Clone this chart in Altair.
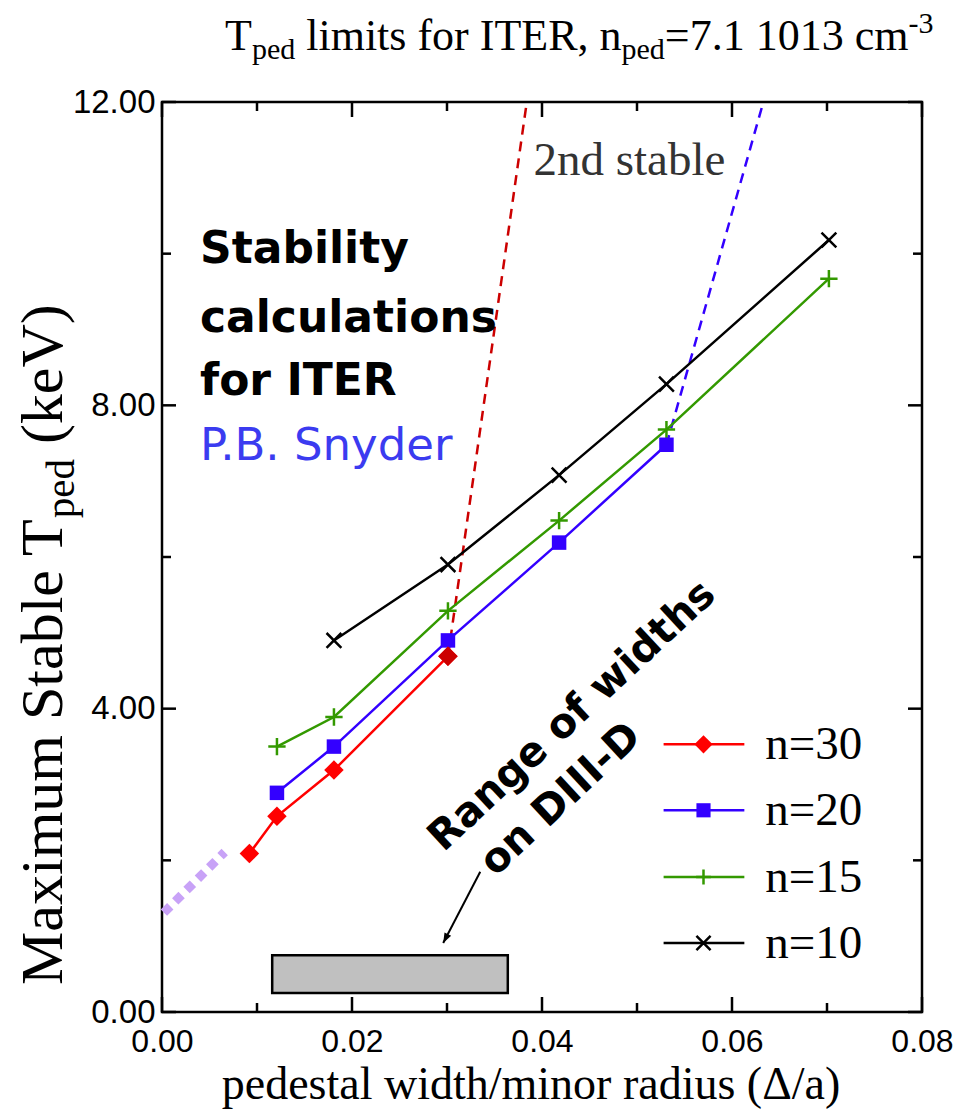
import altair as alt
import pandas as pd

# ---------------- data ----------------
x_n30 = [0.0092, 0.0121, 0.0181, 0.0301]
y_n30 = [2.09, 2.58, 3.19, 4.69]
x_n20 = [0.0121, 0.0181, 0.0301, 0.0418, 0.0531]
y_n20 = [2.89, 3.50, 4.90, 6.19, 7.48]
x_n15 = [0.0121, 0.0181, 0.0301, 0.0418, 0.0531, 0.0702]
y_n15 = [3.50, 3.89, 5.29, 6.48, 7.68, 9.67]
x_n10 = [0.0181, 0.0301, 0.0418, 0.0531, 0.0702]
y_n10 = [4.90, 5.90, 7.08, 8.28, 10.18]

red_dash_x = [0.0301, 0.0384]
red_dash_y = [4.69, 12.0]
blue_dash_x = [0.0531, 0.0633]
blue_dash_y = [7.48, 12.0]
purple_x = [0.0002, 0.0066]
purple_y = [1.31, 2.11]

diiid_x = [0.0116, 0.0364]
diiid_y = [0.25, 0.75]
arrow_x = [0.0335, 0.0296]
arrow_y = [1.85, 0.91]

x_ticks_major = [0.0, 0.02, 0.04, 0.06, 0.08]
x_ticks_minor = [0.01, 0.03, 0.05, 0.07]
y_ticks_major = [0.0, 4.0, 8.0, 12.0]
y_ticks_minor = [2.0, 6.0, 10.0]

legend_labels = ["n=30", "n=20", "n=15", "n=10"]
legend_y = [3.53, 2.66, 1.78, 0.91]

# ---------------- layout ----------------
W, H = 760, 910
PAD = {"left": 162, "top": 102, "right": 35, "bottom": 97}
SERIF = "Liberation Serif"
SANS = "Liberation Sans"
GEO = "DejaVu Sans"

RED, BLUE, GREEN, BLACK = "#ff0000", "#3300ff", "#339900", "#000000"
DRED = "#cc0000"

xs = alt.Scale(domain=[0, 0.08], nice=False, zero=False)
ys = alt.Scale(domain=[0, 12], nice=False, zero=False)

XAXIS = alt.Axis(values=x_ticks_major, format=".2f", domain=False, ticks=False,
                 grid=False, title=None, labelFont=SANS, labelFontSize=32,
                 labelColor="black", labelPadding=14, labelFlush=False,
                 labelOverlap=False)
YAXIS = alt.Axis(values=y_ticks_major, format=".2f", domain=False, ticks=False,
                 grid=False, title=None, labelFont=SANS, labelFontSize=33,
                 labelColor="black", labelPadding=7, labelFlush=False,
                 labelOverlap=False)


def X(f="x"):
    return alt.X(f"{f}:Q", scale=xs, axis=XAXIS)


def Y(f="y"):
    return alt.Y(f"{f}:Q", scale=ys, axis=YAXIS)


PLUS = "M-1,0L1,0M0,-1L0,1"
CROSS = "M-1,-1L1,1M-1,1L1,-1"
ARROWHEAD = "M0,0L0.75,2L-0.75,2Z"

layers = []

# inward ticks
def xtick_layer(vals, length):
    df = pd.DataFrame({"v": vals})
    b = alt.Chart(df).mark_rule(strokeWidth=2.5, color="black").encode(
        x=X("v"), y=alt.value(H), y2=alt.value(H - length))
    t = alt.Chart(df).mark_rule(strokeWidth=2.5, color="black").encode(
        x=X("v"), y=alt.value(0), y2=alt.value(length))
    return [b, t]


def ytick_layer(vals, length):
    df = pd.DataFrame({"v": vals})
    l = alt.Chart(df).mark_rule(strokeWidth=2.5, color="black").encode(
        y=Y("v"), x=alt.value(0), x2=alt.value(length))
    r = alt.Chart(df).mark_rule(strokeWidth=2.5, color="black").encode(
        y=Y("v"), x=alt.value(W), x2=alt.value(W - length))
    return [l, r]


layers += xtick_layer(x_ticks_major, 15) + xtick_layer(x_ticks_minor, 9)
layers += ytick_layer(y_ticks_major, 14) + ytick_layer(y_ticks_minor, 9)

# DIII-D range box
box_df = pd.DataFrame({"x": [diiid_x[0]], "x2": [diiid_x[1]], "y": [diiid_y[0]], "y2": [diiid_y[1]]})
layers.append(alt.Chart(box_df).mark_rect(fill="#c0c0c0", stroke="black", strokeWidth=2.5).encode(
    x=X("x"), x2="x2:Q", y=Y("y"), y2="y2:Q"))

# arrow
arr_df = pd.DataFrame({"x": [arrow_x[0]], "x2": [arrow_x[1]], "y": [arrow_y[0]], "y2": [arrow_y[1]]})
layers.append(alt.Chart(arr_df).mark_rule(strokeWidth=2, color="black").encode(
    x=X("x"), x2="x2:Q", y=Y("y"), y2="y2:Q"))
head_df = pd.DataFrame({"x": [arrow_x[1]], "y": [arrow_y[1]]})
layers.append(alt.Chart(head_df).mark_point(shape=ARROWHEAD, filled=True, color="black",
                                            size=100, angle=207.5, opacity=1).encode(
    x=X("x"), y=Y("y")))

# purple dotted extrapolation
pur_df = pd.DataFrame({"x": purple_x, "y": purple_y})
layers.append(alt.Chart(pur_df).mark_line(color="#c8a2f7", strokeWidth=9, strokeDash=[9, 7]).encode(
    x=X("x"), y=Y("y")))

# dashed 2nd-stability boundaries
rd = pd.DataFrame({"x": red_dash_x, "y": red_dash_y})
layers.append(alt.Chart(rd).mark_line(color=DRED, strokeWidth=2.5, strokeDash=[10, 7], clip=True).encode(
    x=X("x"), y=Y("y")))
bd = pd.DataFrame({"x": blue_dash_x, "y": blue_dash_y})
layers.append(alt.Chart(bd).mark_line(color=BLUE, strokeWidth=2.5, strokeDash=[10, 7], clip=True).encode(
    x=X("x"), y=Y("y")))

# series
series = [
    (x_n10, y_n10, BLACK, CROSS, False, 220),
    (x_n15, y_n15, GREEN, PLUS, False, 300),
    (x_n20, y_n20, BLUE, "square", True, 210),
    (x_n30, y_n30, RED, "diamond", True, 380),
]
for xv, yv, col, shp, filled, sz in series:
    df = pd.DataFrame({"x": xv, "y": yv})
    layers.append(alt.Chart(df).mark_line(color=col, strokeWidth=2.5).encode(x=X("x"), y=Y("y")))
    layers.append(alt.Chart(df).mark_point(shape=shp, filled=filled, color=col, size=sz,
                                           strokeWidth=2.5, opacity=1).encode(x=X("x"), y=Y("y")))
# darker end diamond where the red dashed boundary starts
layers.append(alt.Chart(pd.DataFrame({"x": [red_dash_x[0]], "y": [red_dash_y[0]]})).mark_point(
    shape="diamond", filled=True, color=DRED, size=380, opacity=1).encode(x=X("x"), y=Y("y")))

# legend (drawn inside the plot)
leg_cols = [RED, BLUE, GREEN, BLACK]
leg_shapes = ["diamond", "square", PLUS, CROSS]
leg_filled = [True, True, False, False]
leg_sizes = [330, 200, 220, 200]
for lab, ly, col, shp, fil, sz in zip(legend_labels, legend_y, leg_cols, leg_shapes, leg_filled, leg_sizes):
    ldf = pd.DataFrame({"x": [0.0528], "x2": [0.0613], "y": [ly], "xm": [0.0570], "xt": [0.0635], "label": [lab]})
    layers.append(alt.Chart(ldf).mark_rule(color=col, strokeWidth=2.5).encode(
        x=X("x"), x2="x2:Q", y=Y("y")))
    layers.append(alt.Chart(ldf).mark_point(shape=shp, filled=fil, color=col, size=sz,
                                            strokeWidth=2.5, opacity=1).encode(x=X("xm"), y=Y("y")))
    layers.append(alt.Chart(ldf).mark_text(font=SERIF, fontSize=47, align="left", baseline="alphabetic",
                                           dy=15, color="black").encode(
        x=X("xt"), y=Y("y"), text="label:N"))

# annotation texts
ann = pd.DataFrame({
    "x": [0.0040, 0.0040, 0.0040],
    "y": [9.88, 8.97, 8.14],
    "t": ["Stability", "calculations", "for ITER"],
})
layers.append(alt.Chart(ann).mark_text(font=GEO, fontWeight="bold", fontSize=44, align="left",
                                       baseline="alphabetic", color="black").encode(
    x=X("x"), y=Y("y"), text="t:N"))
layers.append(alt.Chart(pd.DataFrame({"x": [0.0040], "y": [7.28], "t": ["P.B. Snyder"]})).mark_text(
    font=GEO, fontSize=45, align="left", baseline="alphabetic", color="#3b3bf0").encode(
    x=X("x"), y=Y("y"), text="t:N"))
layers.append(alt.Chart(pd.DataFrame({"x": [0.0391], "y": [11.04], "t": ["2nd stable"]})).mark_text(
    font=SERIF, fontSize=47, align="left", baseline="alphabetic", color="#333333").encode(
    x=X("x"), y=Y("y"), text="t:N"))
rot = pd.DataFrame({"x": [0.0432, 0.0420], "y": [3.90, 2.80], "t": ["Range of widths", "on DIII-D"]})
layers.append(alt.Chart(rot).mark_text(font=GEO, fontWeight="bold", fontSize=41, align="center",
                                       baseline="middle", angle=317, color="black").encode(
    x=X("x"), y=Y("y"), text="t:N"))

# ---------- title & axis titles with sub/superscripts ----------
TW = {" ": 250, "(": 333, ")": 333, ",": 250, "-": 333, ".": 250, "/": 278, "=": 564,
      "E": 611, "I": 333, "M": 889, "R": 667, "S": 556, "T": 611, "V": 722,
      "a": 444, "b": 500, "c": 444, "d": 500, "e": 444, "f": 333, "h": 500, "i": 278,
      "k": 500, "l": 278, "m": 778, "n": 500, "o": 500, "p": 500, "r": 333, "s": 389,
      "t": 278, "u": 500, "w": 722, "x": 500, "y": 500}


def tw(s, size):
    return sum(TW.get(c, 500) for c in s) * size / 1000.0


def rich(parts, ax, ay, angle=0):
    out = []
    off = 0.0
    for txt, size, shift in parts:
        stripped = txt.lstrip(" ")
        off += tw(txt[: len(txt) - len(stripped)], size)
        out.append(alt.Chart(pd.DataFrame({"t": [stripped]})).mark_text(
            font=SERIF, fontSize=size, align="left", baseline="alphabetic", color="black",
            dx=off, dy=shift, angle=angle).encode(
            x=alt.value(ax), y=alt.value(ay), text="t:N"))
        off += tw(stripped, size)
    return out


title_parts = [("T", 44, 0), ("ped", 30, 9), (" limits for ITER, n", 44, 0), ("ped", 30, 9),
               ("=7.1 1013 cm", 44, 0), ("-3", 30, -17)]
layers += rich(title_parts, 63, -52)

ytitle_parts = [("Maximum Stable T", 60, 0), ("ped", 41, 12), (" (keV)", 60, 0)]
layers += rich(ytitle_parts, -100, 883, angle=270)

layers.append(alt.Chart(pd.DataFrame({"t": ["pedestal width/minor radius (\u0394/a)"]})).mark_text(
    font=SERIF, fontSize=46, align="center", baseline="alphabetic", color="black").encode(
    x=alt.value(369), y=alt.value(997), text="t:N"))

chart = alt.layer(*layers).properties(
    width=W, height=H, autosize=alt.AutoSizeParams(type="none"), padding=PAD,
    background="white",
).configure_view(stroke="black", strokeWidth=2.5)

chart.save("out.html", embed_options={"renderer": "svg", "actions": False})
